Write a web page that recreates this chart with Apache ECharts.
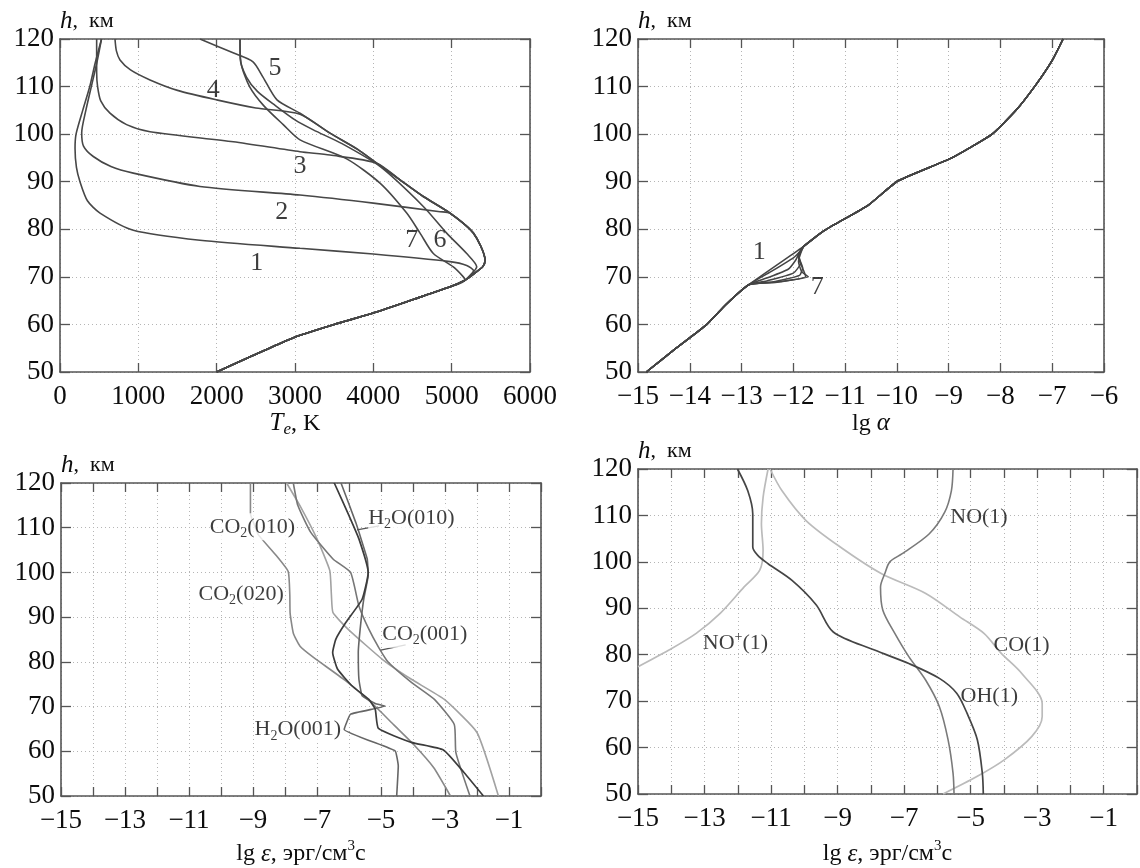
<!DOCTYPE html>
<html>
<head>
<meta charset="utf-8">
<script src="https://cdn.jsdelivr.net/npm/echarts@6/dist/echarts.min.js"></script>
<style>
html,body{margin:0;padding:0;background:#fff;}
#c{width:1140px;height:868px;}
</style>
</head>
<body>
<div id="c"></div>
<script>
// ---------------- DATA ----------------
// Panel 1: Te (K) vs h (km)
const teLower = [[5170,69.3],[4979,67.9],[4500,65.2],[3979,62.3],[3500,60],[3064,57.7],[2809,56],[2400,53],[2000,50]];
const teOuter = [[3447,100.2],[3800,96.8],[4043,93.9],[4340,90.4],[4638,86.9],[4979,83.4],[5277,79.2],[5426,73.5],[5400,72.2],[5320,71.1],[5250,70.2]];
const teUpper1 = [[530,120],[450,115],[380,110],[290,105],[205,100],[192,97],[210,93],[255,90],[350,86],[511,83.4],[936,79.8],[1787,77.7],[3064,76],[4000,74.8],[4979,73.2],[5192,72.4],[5280,71.3],[5230,70.2]];
const teUpper2 = [[530,120],[470,115],[400,110],[330,105],[277,100.3],[300,97.5],[425,95.3],[650,93.2],[936,91.8],[1787,89],[3064,87.2],[4000,85.5],[4851,83.7],[4979,83.4]];
const teUpper3 = [[468,120],[468,113],[480,110],[520,107],[638,104.4],[850,102],[1149,100.5],[2213,98.4],[3064,96.3],[3447,95.6],[4043,93.9]];
const teUpper4 = [[702,120],[720,117.5],[766,115.6],[900,113.5],[1149,111.4],[1500,109.2],[2000,107.2],[2500,105.5],[3064,104.2]];
const teUpper5 = [[1787,120],[2209,117.1],[2464,115.2],[2591,112],[2770,107.2],[3064,104.4]];
const teCurve6 = [[2298,120],[2300,116],[2380,112],[2520,109],[2750,106],[3000,103],[3234,100.9],[3600,98],[4085,93.2],[4638,84.8],[4936,79.2],[5192,74.9],[5320,72.1],[5250,70.5]];
const teCurve7 = [[2298,120],[2310,115],[2420,110],[2600,106],[2850,102],[3064,98.8],[3660,94.8],[4085,89.7],[4426,83.4],[4596,79.2],[4766,74.9],[5021,72.1],[5149,70]];
const teLabels = [[2511,72.8,'1'],[2830,83.7,'2'],[3064,93.2,'3'],[1957,109.3,'4'],[2745,113.9,'5'],[4851,77.7,'6'],[4489,77.7,'7']];

// Panel 2: lg alpha vs h
const alphaHigh = [[-6.79,120],[-7.0,115.5],[-7.32,110.3],[-7.7,105],[-8.16,100],[-8.94,95],[-9.99,90.1],[-10.55,85.1],[-11.39,79.8],[-11.80,76.4]];
const alphaLow = [[-12.86,68.35],[-13.3,64.2],[-13.68,59.9],[-14.3,54.7],[-14.84,50]];
const alphaLoop1 = [];
const alphaLoop2 = [[-11.85,75.6],[-12.0,74.0],[-12.4,71.3]];
const alphaLoop3 = [[-11.88,75.2],[-11.95,73.6],[-12.1,71.6],[-12.5,69.8]];
const alphaLoop4 = [[-11.9,74.8],[-11.86,72.8],[-12.0,70.8],[-12.5,69.2]];
const alphaLoop5 = [[-11.9,74.4],[-11.82,71.9],[-11.88,70.3],[-12.4,68.9]];
const alphaLoop6 = [[-11.9,74.0],[-11.8,71.3],[-11.76,70.1],[-12.35,68.8]];
const alphaLoop7 = [[-11.9,73.2],[-11.84,71.1],[-11.71,70.0],[-12.25,69.0]];
const alphaLabels = [[-12.66,75.2,'1'],[-11.54,67.9,'7']];

// Panel 3: lg eps vs h (CO2, H2O)
const epsCO2lo = [[-9.08,120],[-9.08,113.2],[-8.95,110.5],[-8.83,108.4],[-8.3,104],[-7.9,100.2],[-7.85,95],[-7.84,90.9],[-7.74,86.4],[-7.53,83.5],[-7.11,81.0],[-6.07,75.6],[-5.23,70.4],[-4.6,65.9],[-3.98,61.5],[-3.35,56.3],[-2.83,50]];
const epsH2O010 = [[-6.46,120],[-6.0,112.7],[-5.69,107.5],[-5.4,100],[-5.59,94],[-6.1,88.8],[-6.41,85.1],[-6.51,82.1],[-6.36,78.4],[-5.9,74.6],[-5.38,71.6],[-5.18,69.4],[-5.08,65.1],[-4.05,62.0],[-3.05,60.3],[-2.4,55.2],[-1.8,50]];
const epsH2O001 = [[-6.25,120],[-5.79,111.2],[-5.43,103],[-5.4,99.3],[-5.54,94],[-5.64,88.1],[-5.71,82.1],[-5.69,76.1],[-5.59,72.4],[-5.18,70.7],[-4.87,70.1],[-5.95,68.3],[-6.15,64.9],[-4.56,60.1],[-4.46,56.7],[-4.51,50]];
const epsCO2a = [[-7.95,120],[-7.5,114.5],[-7.0,107.5],[-6.6,100.4],[-6.55,95],[-6.5,91],[-6.0,87.1],[-4.93,80.4],[-4.05,76.1],[-3.02,71.6],[-2.0,64.2],[-1.33,50]];
const epsCO2b = [[-7.74,120],[-7.6,115],[-7.2,109],[-6.5,103],[-5.95,100],[-5.69,92.5],[-5.38,87.3],[-5.07,83.2],[-4.77,79.9],[-4.05,75.4],[-3.33,71.6],[-2.71,66],[-2.66,59.7],[-2.22,50]];
const epsLabels = [
  [-9.02,110.2,'{n|CO}{s|2}{n|(010)}'],
  [-9.37,95.2,'{n|CO}{s|2}{n|(020)}'],
  [-7.6,64.9,'{n|H}{s|2}{n|O(001)}'],
  [-4.05,112.2,'{n|H}{s|2}{n|O(010)}'],
  [-3.63,86.2,'{n|CO}{s|2}{n|(001)}']
];
const epsLeader1 = [[-5.75,109.5],[-5.06,110.4]];
const epsLeader2 = [[-5.01,82.6],[-4.23,83.8]];

// Panel 4: lg eps vs h (NO, OH, CO, NO+)
const epsOH = [[-12.01,120],[-11.70,115.3],[-11.55,110.3],[-11.55,103.2],[-11.4,101.4],[-11.09,99.6],[-10.37,96],[-9.64,90.7],[-9.13,84.9],[-7.89,81],[-6.86,78.1],[-5.94,74.9],[-5.42,71.7],[-5.11,67.4],[-4.8,61.7],[-4.65,54.5],[-4.62,50]];
const epsNO = [[-5.53,120],[-5.58,115.3],[-5.78,110.7],[-6.25,106],[-7.07,101.7],[-7.43,100],[-7.58,97.5],[-7.71,94.6],[-7.64,89.6],[-7.28,84.6],[-6.86,79.6],[-6.35,74.5],[-5.94,68.8],[-5.68,61.7],[-5.53,54.5],[-5.5,50]];
const epsCO = [[-11.03,120],[-10.67,115.3],[-9.95,108.9],[-8.92,103.2],[-7.69,97.5],[-6.35,93.2],[-5.32,88.1],[-4.6,84.6],[-4.08,80.3],[-3.47,76],[-2.85,69.5],[-2.85,66.7],[-3.16,62.4],[-3.98,57.4],[-4.8,53.8],[-5.83,50]];
const epsNOp = [[-11.09,120],[-11.24,113.9],[-11.29,108.2],[-11.24,102.5],[-11.34,98.2],[-11.81,94.6],[-12.53,88.9],[-13.25,84.6],[-14.07,81],[-15,77.4]];
const eps2Labels = [
  [-4.75,109.6,'{n|NO(1)}'],
  [-12.07,82.4,'{n|NO}{p|+}{n|(1)}'],
  [-3.47,82,'{n|CO(1)}'],
  [-4.44,71,'{n|OH(1)}']
];

// Axis ranges
const hRange = {min:50, max:120, interval:10};
const teRange = {min:0, max:6000, interval:1000};
const alphaRange = {min:-15, max:-6, interval:1};
const epsRange = {min:-15, max:0, interval:1};

// ---------------- CHART ----------------
const FONT = '"Liberation Serif","DejaVu Serif","Times New Roman",serif';
const TXT = '#0d0d0d';
const AX = '#555';
const minus = v => (v < 0 ? '\u2212' + Math.abs(v) : String(v));
const oddOnly = v => (Math.abs(v) % 2 === 1 ? minus(v) : '');

const grids = [
  {left:60, top:39, width:470, height:333},
  {left:638, top:39, width:466, height:333},
  {left:61, top:483, width:480, height:313},
  {left:638, top:469, width:499, height:325}
];

const nameRich = {
  i:{fontFamily:FONT, fontStyle:'italic', fontSize:25, color:TXT, lineHeight:30},
  e:{fontFamily:FONT, fontStyle:'italic', fontSize:17, color:TXT, verticalAlign:'bottom', lineHeight:17},
  n:{fontFamily:FONT, fontSize:24, color:TXT, lineHeight:30},
  p:{fontFamily:FONT, fontSize:15, color:TXT, verticalAlign:'top', lineHeight:15}
};
const hRich = {
  i:{fontFamily:FONT, fontStyle:'italic', fontSize:25, color:TXT},
  n:{fontFamily:FONT, fontSize:22, color:TXT}
};

function xPair(g, r, fmt, name, gap) {
  const base = {type:'value', gridIndex:g, min:r.min, max:r.max, interval:r.interval};
  return [
    Object.assign({}, base, {
      position:'bottom',
      axisLine:{show:true, onZero:false, lineStyle:{color:AX, width:1.6}},
      axisTick:{show:true, inside:true, length:9, lineStyle:{color:AX, width:1.3}},
      axisLabel:{show:true, margin:11, fontFamily:FONT, fontSize:27, color:TXT, formatter:fmt, hideOverlap:false},
      splitLine:{show:true, lineStyle:{color:'#b5b5b5', type:[1,3], width:1}},
      name:name, nameLocation:'middle', nameGap:gap,
      nameTextStyle:{fontFamily:FONT, fontSize:24, color:TXT, rich:nameRich}
    }),
    Object.assign({}, base, {
      position:'top',
      axisLine:{show:true, onZero:false, lineStyle:{color:AX, width:1.6}},
      axisTick:{show:true, inside:true, length:9, lineStyle:{color:AX, width:1.3}},
      axisLabel:{show:false}, splitLine:{show:false}
    })
  ];
}
function yPair(g) {
  const base = {type:'value', gridIndex:g, min:hRange.min, max:hRange.max, interval:hRange.interval};
  return [
    Object.assign({}, base, {
      position:'left',
      axisLine:{show:true, onZero:false, lineStyle:{color:AX, width:1.6}},
      axisTick:{show:true, inside:true, length:10, lineStyle:{color:AX, width:1.3}},
      axisLabel:{show:true, margin:6, fontFamily:FONT, fontSize:27, color:TXT},
      splitLine:{show:true, lineStyle:{color:'#b5b5b5', type:[1,3], width:1}},
      name:'{i|h}{n|,  км}', nameLocation:'end', nameGap:5,
      nameTextStyle:{align:'left', verticalAlign:'bottom', fontFamily:FONT, fontSize:22, color:TXT, rich:hRich}
    }),
    Object.assign({}, base, {
      position:'right',
      axisLine:{show:true, onZero:false, lineStyle:{color:AX, width:1.6}},
      axisTick:{show:true, inside:true, length:10, lineStyle:{color:AX, width:1.3}},
      axisLabel:{show:false}, splitLine:{show:false}
    })
  ];
}

const xAxis = [].concat(
  xPair(0, teRange, v => String(v), '{i|T}{e|e}{n|, K}', 36),
  xPair(1, alphaRange, minus, '{n|lg }{i|α}', 36),
  xPair(2, epsRange, oddOnly, '{n|lg }{i|ε}{n|, эрг/см}{p|3}{n|с}', 43),
  xPair(3, epsRange, oddOnly, '{n|lg }{i|ε}{n|, эрг/см}{p|3}{n|с}', 45)
);
const yAxis = [].concat(yPair(0), yPair(1), yPair(2), yPair(3));

const series = [];
function addLine(g, data, color, width, smooth, z) {
  series.push({
    type:'line', xAxisIndex:2*g, yAxisIndex:2*g, data:data,
    showSymbol:false, symbol:'none', smooth:smooth, silent:true, clip:true,
    lineStyle:{color:color, width:width}, z:z || 2, animation:false
  });
}
function addLabels(g, labels, size, bg) {
  series.push({
    type:'scatter', xAxisIndex:2*g, yAxisIndex:2*g, symbolSize:0, silent:true, z:20, animation:false,
    data: labels.map(l => ({value:[l[0], l[1]], name:l[2]})),
    label:{show:true, position:'inside', formatter:p => p.name, fontFamily:FONT, fontSize:size, color:TXT,
      backgroundColor: bg || 'transparent',
      rich:{
        n:{fontFamily:FONT, fontSize:size, color:TXT, lineHeight:size+5},
        s:{fontFamily:FONT, fontSize:Math.round(size*0.65), color:TXT, verticalAlign:'bottom', lineHeight:Math.round(size*0.6)},
        p:{fontFamily:FONT, fontSize:Math.round(size*0.65), color:TXT, verticalAlign:'top', lineHeight:Math.round(size*0.6)}
      }}
  });
}

// Panel 1
const TC = '#474747';
addLine(0, teUpper1.concat(teLower), TC, 1.6, 0.25);
addLine(0, teUpper2.concat(teOuter.slice(6), teLower), TC, 1.6, 0.25);
addLine(0, teUpper3.concat(teOuter.slice(3), teLower), TC, 1.6, 0.25);
addLine(0, teUpper4.concat(teOuter, teLower), TC, 1.6, 0.25);
addLine(0, teUpper5.concat(teOuter, teLower), TC, 1.6, 0.25);
addLine(0, teCurve6.concat(teLower), TC, 1.6, 0.25);
addLine(0, teCurve7.concat(teLower), TC, 1.6, 0.25);
addLabels(0, teLabels, 26);

// Panel 2
[alphaLoop1, alphaLoop2, alphaLoop3, alphaLoop4, alphaLoop5, alphaLoop6, alphaLoop7].forEach(loop => {
  addLine(1, alphaHigh.concat(loop, alphaLow), '#444', 1.5, 0.15);
});
addLabels(1, alphaLabels, 26);

// Panel 3
addLine(2, epsCO2lo, '#888', 1.6, 0.15);
addLine(2, epsCO2a, '#a2a2a2', 1.6, 0.15);
addLine(2, epsCO2b, '#777', 1.6, 0.15);
addLine(2, epsH2O001, '#666', 1.6, 0.1);
addLine(2, epsH2O010, '#3c3c3c', 1.7, 0.15);
addLine(2, epsLeader1, '#555', 1.3, false);
addLine(2, epsLeader2, '#555', 1.3, false);
addLabels(2, epsLabels, 22, '#fff');

// Panel 4
addLine(3, epsCO, '#bbb', 1.7, 0.3);
addLine(3, epsNOp, '#bbb', 1.7, 0.3);
addLine(3, epsNO, '#7a7a7a', 1.6, 0.3);
addLine(3, epsOH, '#454545', 1.7, 0.3);
addLabels(3, eps2Labels, 22);

const chart = echarts.init(document.getElementById('c'), null, {renderer:'canvas'});
chart.setOption({
  animation:false,
  backgroundColor:'#fff',
  grid:grids,
  xAxis:xAxis,
  yAxis:yAxis,
  series:series
});
</script>
</body>
</html>
